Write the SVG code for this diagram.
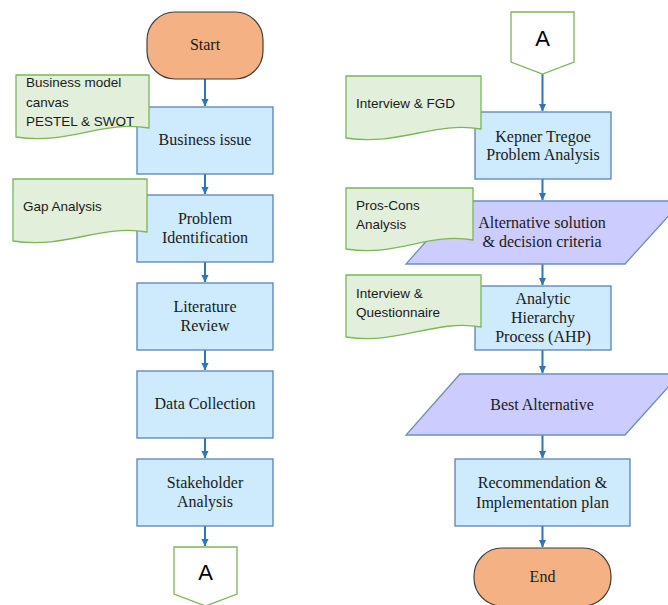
<svg xmlns="http://www.w3.org/2000/svg" width="668" height="605" viewBox="0 0 668 605">
<defs>
<marker id="ah" markerWidth="8" markerHeight="8" refX="7" refY="4" orient="auto" markerUnits="userSpaceOnUse">
<path d="M0,0.5 L7.5,4 L0,7.5 Z" fill="#2E75B6"/>
</marker>
</defs>
<style>
.term{fill:#F4B183;stroke:#404040;stroke-width:1.2}
.proc{fill:#CDEBFD;stroke:#5B82B8;stroke-width:1.3}
.para{fill:#CCCCFF;stroke:#6C8EBF;stroke-width:1.3}
.doc{fill:#E2EFDA;stroke:#7CB658;stroke-width:1.3}
.conn{fill:#FFFFFF;stroke:#7CB658;stroke-width:1.3}
.edge{stroke:#2E75B6;stroke-width:2;fill:none;marker-end:url(#ah)}
.st{font-family:"Liberation Serif","Times New Roman",serif;font-size:16px;fill:#1a1a1a;text-anchor:middle}
.ss{font-family:"Liberation Sans",Arial,sans-serif;font-size:13.5px;fill:#1a1a1a}
.sa{font-family:"Liberation Sans",Arial,sans-serif;font-size:22px;fill:#000;text-anchor:middle}
</style>
<rect width="668" height="605" fill="#FFFFFF"/>
<g id="connectors">
<line class="edge" x1="205" y1="79" x2="205" y2="106"/>
<line class="edge" x1="205" y1="174" x2="205" y2="194"/>
<line class="edge" x1="205" y1="262" x2="205" y2="282"/>
<line class="edge" x1="205" y1="350" x2="205" y2="370"/>
<line class="edge" x1="205" y1="438" x2="205" y2="458"/>
<line class="edge" x1="205" y1="526" x2="205" y2="546"/>
<line class="edge" x1="542.5" y1="74" x2="542.5" y2="111"/>
<line class="edge" x1="542.5" y1="179" x2="542.5" y2="200"/>
<line class="edge" x1="542.5" y1="264" x2="542.5" y2="285"/>
<line class="edge" x1="542.5" y1="350" x2="542.5" y2="373"/>
<line class="edge" x1="542.5" y1="435" x2="542.5" y2="458"/>
<line class="edge" x1="542.5" y1="526" x2="542.5" y2="547"/>
</g>
<g id="start">
<rect class="term" x="147" y="12" width="116" height="67" rx="28" ry="28"/>
<text class="st" x="205" y="50">Start</text>
</g>
<g id="business-issue">
<rect class="proc" x="137" y="107" width="136" height="67"/>
<text class="st" x="205" y="145">Business issue</text>
</g>
<g id="doc-bmc">
<path class="doc" d="M16,75 H149 V128 C102,120 69,145 16,137 Z"/>
<text class="ss" x="26" y="87">Business model</text>
<text class="ss" x="26" y="107">canvas</text>
<text class="ss" x="26" y="126">PESTEL &amp; SWOT</text>
</g>
<g id="problem-identification">
<rect class="proc" x="137" y="195" width="136" height="67"/>
<text class="st" x="205" y="224">Problem</text>
<text class="st" x="205" y="243">Identification</text>
</g>
<g id="doc-gap">
<path class="doc" d="M13,179 H147 V232 C100,224 67,249 13,241 Z"/>
<text class="ss" x="23" y="211">Gap Analysis</text>
</g>
<g id="literature-review">
<rect class="proc" x="137" y="283" width="136" height="67"/>
<text class="st" x="205" y="312">Literature</text>
<text class="st" x="205" y="331">Review</text>
</g>
<g id="data-collection">
<rect class="proc" x="137" y="371" width="136" height="67"/>
<text class="st" x="205" y="409">Data Collection</text>
</g>
<g id="stakeholder-analysis">
<rect class="proc" x="137" y="459" width="136" height="67"/>
<text class="st" x="205" y="488">Stakeholder</text>
<text class="st" x="205" y="507">Analysis</text>
</g>
<g id="connector-a-out">
<polygon class="conn" points="174,547 237,547 237,594 205.5,606 174,594"/>
<text class="sa" x="205.5" y="580">A</text>
</g>
<g id="connector-a-in">
<polygon class="conn" points="511,12 574,12 574,62 542.5,74 511,62"/>
<text class="sa" x="542.5" y="46">A</text>
</g>
<g id="kepner-tregoe">
<rect class="proc" x="475" y="112" width="136" height="67"/>
<text class="st" x="543" y="142">Kepner Tregoe</text>
<text class="st" x="543" y="160">Problem Analysis</text>
</g>
<g id="doc-fgd">
<path class="doc" d="M346,76 H481 V129 C434,121 400,146 346,138 Z"/>
<text class="ss" x="356" y="108">Interview &amp; FGD</text>
</g>
<g id="alternative-solution">
<polygon class="para" points="462,201 682,201 625,264 406,264"/>
<text class="st" x="542" y="228">Alternative solution</text>
<text class="st" x="542" y="247">&amp; decision criteria</text>
</g>
<g id="doc-proscons">
<path class="doc" d="M346,188 H473 V240 C428,232 397,257 346,249 Z"/>
<text class="ss" x="356" y="210">Pros-Cons</text>
<text class="ss" x="356" y="229">Analysis</text>
</g>
<g id="ahp">
<rect class="proc" x="475" y="286" width="136" height="64"/>
<text class="st" x="543" y="304">Analytic</text>
<text class="st" x="543" y="323">Hierarchy</text>
<text class="st" x="543" y="342">Process (AHP)</text>
</g>
<g id="doc-questionnaire">
<path class="doc" d="M346,275 H481 V327 C434,319 400,345 346,337 Z"/>
<text class="ss" x="356" y="298">Interview &amp;</text>
<text class="ss" x="356" y="317">Questionnaire</text>
</g>
<g id="best-alternative">
<polygon class="para" points="460,374 680,374 625,435 406,435"/>
<text class="st" x="542" y="410">Best Alternative</text>
</g>
<g id="recommendation">
<rect class="proc" x="455" y="459" width="175" height="67"/>
<text class="st" x="542.5" y="488">Recommendation &amp;</text>
<text class="st" x="542.5" y="508">Implementation plan</text>
</g>
<g id="end">
<rect class="term" x="474" y="548" width="137" height="58" rx="28" ry="28"/>
<text class="st" x="542.5" y="582">End</text>
</g>
</svg>
